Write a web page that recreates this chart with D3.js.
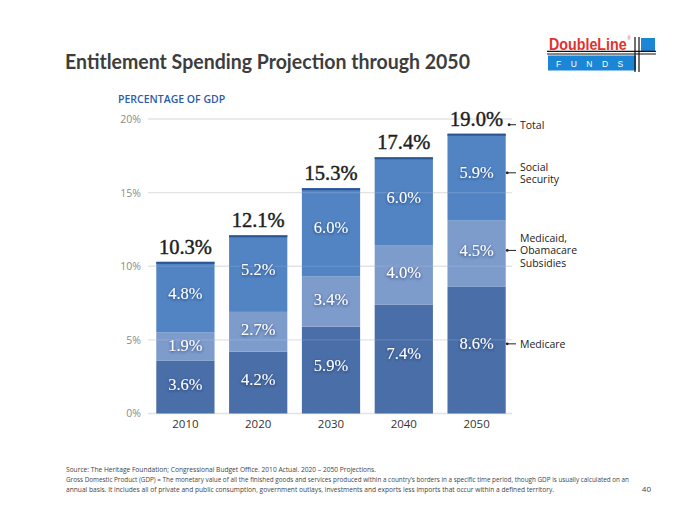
<!DOCTYPE html>
<html><head><meta charset="utf-8">
<script src="https://cdn.jsdelivr.net/npm/d3@7"></script>
<style>
html,body{margin:0;padding:0;background:#fff;}
svg{display:block;}
</style></head>
<body>
<svg id="chart" width="700" height="525"></svg>
<script>
const years = ["2010","2020","2030","2040","2050"];
const medicare = [3.6,4.2,5.9,7.4,8.6];
const medicaid = [1.9,2.7,3.4,4.0,4.5];
const socialSecurity = [4.8,5.2,6.0,6.0,5.9];
const totals = [10.3,12.1,15.3,17.4,19.0];
const yTicks = [0,5,10,15,20];
const seriesNames = ["Medicare","Medicaid, Obamacare Subsidies","Social Security"];

const svg = d3.select("#chart");
const defs = svg.append("defs");
const f = defs.append("filter").attr("id","sh").attr("x","-20%").attr("y","-40%").attr("width","140%").attr("height","180%");
f.append("feDropShadow").attr("dx",0).attr("dy",1).attr("stdDeviation",1.6).attr("flood-color","#0a2a5a").attr("flood-opacity",0.75);

const x = d3.scaleBand().domain(years).range([149,513]).paddingInner(0.2).paddingOuter(0.1);
const y = d3.scaleLinear().domain([0,20]).range([413.5,119]);

// Title
svg.append("text").attr("x",65).attr("y",69).attr("font-family","Lato, 'Open Sans', sans-serif")
  .attr("font-weight","bold").attr("font-size",20).attr("fill","#3d3d3d")
  .attr("textLength",405).attr("lengthAdjust","spacingAndGlyphs")
  .text("Entitlement Spending Projection through 2050");

// Logo
const lg = svg.append("g");
const logoText = lg.append("text").attr("transform","translate(549,50) scale(0.84,1)")
  .attr("font-family","'Liberation Sans', Arial, sans-serif")
  .attr("font-weight","bold").attr("font-size",17).attr("fill","#e2312d");
logoText.append("tspan").text("DoubleLine");
logoText.append("tspan").attr("dx",1).attr("dy",-10).attr("font-size",5).attr("font-weight","normal").text("®");
lg.append("rect").attr("x",548).attr("y",55.5).attr("width",88).attr("height",15).attr("fill","#1b86d6");
lg.append("rect").attr("x",641).attr("y",38).attr("width",14).attr("height",13).attr("fill","#1b86d6");
lg.append("text").attr("x",556).attr("y",67).attr("font-family","'Liberation Sans', sans-serif").attr("font-size",8.5)
  .attr("fill","#fff").attr("letter-spacing","9.5").text("FUNDS");
[51.3,54].forEach(yy=>lg.append("line").attr("x1",547).attr("x2",656).attr("y1",yy).attr("y2",yy).attr("stroke","#111").attr("stroke-width",1.2));
[635,639].forEach(xx=>lg.append("line").attr("x1",xx).attr("x2",xx).attr("y1",37).attr("y2",72).attr("stroke","#111").attr("stroke-width",1.2));

// subtitle
svg.append("text").attr("x",118).attr("y",103).attr("font-family","'Open Sans', sans-serif").attr("font-weight",600)
  .attr("font-size",10.5).attr("fill","#2b5ba8").text("PERCENTAGE OF GDP");

// grid
const grid = svg.append("g");
yTicks.forEach(t=>{
  grid.append("line").attr("x1",148).attr("x2",512).attr("y1",y(t)).attr("y2",y(t))
    .attr("stroke","#e3e3e3").attr("stroke-width",1.3);
});
const yAxis = d3.axisLeft(y).tickValues(yTicks).tickFormat(d=>d+"%").tickSize(0).tickPadding(0);
const ya = svg.append("g").attr("transform","translate(141,0)").call(yAxis);
ya.select(".domain").remove();
ya.selectAll("text").attr("font-family","'Open Sans', sans-serif").attr("font-size",10.5).attr("fill","#8a8a8a");

// bars
const colors = ["#4a6ea8","#7d9bcb","#5284c4"];
const stackData = years.map((yr,i)=>({year:yr, m:medicare[i], c:medicaid[i], s:socialSecurity[i]}));
const stack = d3.stack().keys(["m","c","s"])(stackData);
const gBars = svg.append("g");
stack.forEach((layer,li)=>{
  gBars.selectAll(null).data(layer).enter().append("rect")
    .attr("x",d=>x(d.data.year)).attr("width",x.bandwidth())
    .attr("y",d=>y(d[1])).attr("height",d=>y(d[0])-y(d[1]))
    .attr("fill",colors[li]);
});
// faint gridlines through bars
yTicks.slice(1).forEach(t=>{
  years.forEach((yr,i)=>{
    if (t < totals[i]) gBars.append("line").attr("x1",x(yr)).attr("x2",x(yr)+x.bandwidth())
      .attr("y1",y(t)).attr("y2",y(t)).attr("stroke","#ffffff").attr("stroke-opacity",0.13).attr("stroke-width",1.2);
  });
});
// top edge
gBars.selectAll(null).data(totals).enter().append("rect")
  .attr("x",(d,i)=>x(years[i])).attr("width",x.bandwidth()).attr("y",d=>y(d)).attr("height",2)
  .attr("fill","#2a5593");

// label anchor: slightly above the segment's centre
const labelY = d => { const t=y(d[1]), b=y(d[0]); return (t+b)/2 - 0.05*(b-t); };

// segment labels
stack.forEach(layer=>{
  svg.append("g").selectAll(null).data(layer).enter().append("text")
    .attr("x",d=>x(d.data.year)+x.bandwidth()/2).attr("y",d=>labelY(d)+5.5)
    .attr("text-anchor","middle").attr("font-family","'Liberation Serif', 'Times New Roman', serif")
    .attr("font-size",16.5).attr("fill","#fff").attr("filter","url(#sh)")
    .text(d=>(d[1]-d[0]).toFixed(1)+"%");
});
// totals
svg.append("g").selectAll(null).data(totals).enter().append("text")
  .attr("x",(d,i)=>x(years[i])+x.bandwidth()/2).attr("y",d=>y(d)-8)
  .attr("text-anchor","middle").attr("font-family","'Liberation Serif', 'Times New Roman', serif")
  .attr("font-size",20.5).attr("fill","#1e1e1e").attr("stroke","#1e1e1e").attr("stroke-width",0.45)
  .text(d=>d.toFixed(1)+"%");

// x axis labels
const xAxis = d3.axisBottom(x).tickSize(0).tickPadding(0);
const xa = svg.append("g").attr("transform","translate(0,420)").call(xAxis);
xa.select(".domain").remove();
xa.selectAll("text").attr("font-family","'Open Sans', sans-serif").attr("font-size",11.5).attr("fill","#333").attr("dy","0.71em");

// legend annotations
const last = stack.map(l=>l[l.length-1]);
const lx = x(years[4])+x.bandwidth();
const ann = [
  {y:y(totals[4])-9, lines:["Total"], x0:x(years[4])+x.bandwidth()/2+31},
  {y:labelY(last[2]), lines:["Social","Security"], x0:lx},
  {y:labelY(last[1]), lines:["Medicaid,","Obamacare","Subsidies"], x0:lx},
  {y:labelY(last[0]), lines:["Medicare"], x0:lx}
];
const ga = svg.append("g");
ann.forEach(a=>{
  ga.append("circle").attr("cx",a.x0+1.5).attr("cy",a.y).attr("r",1.4).attr("fill","#222");
  ga.append("line").attr("x1",a.x0+1.5).attr("x2",516).attr("y1",a.y).attr("y2",a.y).attr("stroke","#222").attr("stroke-width",1);
  const n = a.lines.length;
  a.lines.forEach((t,k)=>{
    ga.append("text").attr("x",520).attr("y",a.y+4+(k-(n-1)/2)*12.5)
      .attr("font-family","'Open Sans', sans-serif").attr("font-size",10.5).attr("fill","#222").text(t);
  });
});

// footer
const foot = [
  "Source: The Heritage Foundation; Congressional Budget Office. 2010 Actual. 2020 \u2013 2050 Projections.",
  "Gross Domestic Product (GDP) = The monetary value of all the finished goods and services produced within a country\u2019s borders in a specific time period, though GDP is usually calculated on an",
  "annual basis. It includes all of private and public consumption, government outlays, investments and exports less imports that occur within a defined territory."
];
const footW = [310, 563, 488];
foot.forEach((t,k)=>{
  svg.append("text").attr("x",66).attr("y",471.5+k*10).attr("font-family","'Open Sans', sans-serif")
    .attr("font-size",6.3).attr("fill","#444").attr("textLength",footW[k]).attr("lengthAdjust","spacingAndGlyphs").text(t);
});
svg.append("text").attr("x",651).attr("y",492).attr("text-anchor","end").attr("font-family","'Open Sans', sans-serif")
  .attr("font-size",8).attr("fill","#444").text("40");
</script>
</body></html>
